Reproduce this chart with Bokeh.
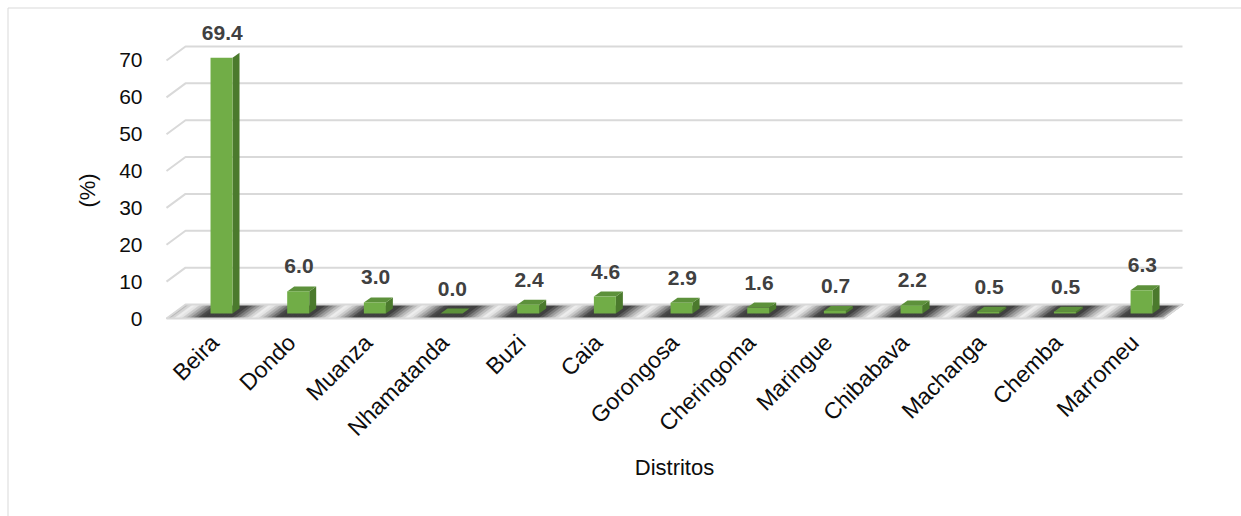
import numpy as np
from math import pi
from bokeh.plotting import figure
from bokeh.models import FixedTicker, Range1d
from bokeh.core.properties import value
from bokeh.embed import file_html
from bokeh.resources import INLINE

# ---------------- data ----------------
districts = ["Beira", "Dondo", "Muanza", "Nhamatanda", "Buzi", "Caia", "Gorongosa",
             "Cheringoma", "Maringue", "Chibabava", "Machanga", "Chemba", "Marromeu"]
percent = [69.4, 6.0, 3.0, 0.0, 2.4, 4.6, 2.9, 1.6, 0.7, 2.2, 0.5, 0.5, 6.3]
y_ticks = [0, 10, 20, 30, 40, 50, 60, 70]
x_title = "Distritos"
y_title = "(%)"

# ---------------- layout (pixels) ----------------
W, H = 1241, 516
FL, FR, FT, FB = 166, 1182, 58, 322
PXX, PXY = 76.67, 3.686
x_start = -0.629
x_end = x_start + (FR - FL) / PXX
y_start = -4 / PXY
y_end = y_start + (FB - FT) / PXY

DXB, DYB = 19 / PXX, 14 / PXY          # back wall offset
BDX, BDY = 6.8 / PXX, 5 / PXY          # bar front plane offset
HW = 11 / PXX                          # bar half width
DDX, DDY = 7 / PXX, 5 / PXY            # bar depth
x0f = x_start
x1f = x_end - DXB

FONT = "Liberation Sans"

p = figure(width=W, height=H, x_range=Range1d(x_start, x_end), y_range=Range1d(y_start, y_end),
           output_backend="svg", toolbar_location=None,
           min_border_left=FL, min_border_right=W - FR, min_border_top=FT, min_border_bottom=H - FB)
p.outline_line_color = None
p.xgrid.visible = False
p.ygrid.visible = False
p.background_fill_color = "white"

# axes
for ax in (p.xaxis, p.yaxis):
    ax.axis_line_color = None
    ax.major_tick_line_color = None
    ax.minor_tick_line_color = None
    ax.major_tick_out = 0
    ax.major_label_text_font = FONT
    ax.major_label_text_color = "#0d0d0d"
    ax.axis_label_text_font = FONT
    ax.axis_label_text_font_size = "22px"
    ax.axis_label_text_font_style = "normal"
    ax.axis_label_text_color = "#0d0d0d"

p.yaxis.ticker = FixedTicker(ticks=y_ticks)
p.yaxis.major_label_text_font_size = "21px"
p.yaxis.major_label_standoff = 24
p.yaxis.axis_label = y_title
p.yaxis.axis_label_standoff = 16

p.xaxis.ticker = FixedTicker(ticks=list(range(len(districts))))
p.xaxis.major_label_overrides = {i: d for i, d in enumerate(districts)}
p.xaxis.major_label_orientation = pi / 4
p.xaxis.major_label_text_font_size = "23px"
p.xaxis.major_label_standoff = 16
p.xaxis.axis_label = x_title
p.xaxis.axis_label_standoff = 2

# chart border (top and left visible)
bx = x_start - (FL - 7.5) / PXX
by = y_end + (FT - 7.5) / PXY
p.multi_line([[bx, x_end + (W - FR) / PXX], [bx, bx]],
             [[by, by], [by, y_start - (H - FB) / PXY]],
             line_color="#d9d9d9", line_width=1, level="overlay")

# gridlines (back wall + left side)
gxs, gys = [], []
for t in y_ticks[1:]:
    gxs.append([x0f, x0f + DXB, x_end])
    gys.append([t, t + DYB, t + DYB])
p.multi_line(gxs, gys, line_color="#d9d9d9", line_width=2, level="annotation")

# floor with shading
N = 260
edges = np.linspace(x0f, x1f, N + 1)
fxs, fys, fcols = [], [], []
dark = np.array([0x40, 0x40, 0x40])
light = np.array([0xf2, 0xf2, 0xf2])
for a, b in zip(edges[:-1], edges[1:]):
    xm = (a + b) / 2 + DXB / 2 - (BDX + DDX / 2)
    d = abs(xm - round(xm))
    t = d / 0.5
    k = np.clip((1.0 - t) / 0.6, 0, 1) ** 1.2
    c = (light + (dark - light) * k).astype(int)
    fxs.append([a, b + 0.01, b + DXB + 0.01, a + DXB])
    fys.append([0, 0, DYB, DYB])
    fcols.append("#%02x%02x%02x" % tuple(c))
p.patches(fxs, fys, fill_color=fcols, line_color=fcols, line_width=0.6, level="annotation")
p.multi_line([[x0f, x1f, x_end], [x0f, x0f + DXB, x_end]], [[0, 0, DYB], [0, DYB, DYB]],
             line_color="#d9d9d9", line_width=2, level="annotation")

# bars
xi = np.arange(len(districts))
vals = np.array(percent)
left = xi + BDX - HW
right = xi + BDX + HW
bot = np.full(len(xi), BDY)
top = BDY + vals

side_xs = [[r, r + DDX, r + DDX, r] for r in right]
side_ys = [[b, b + DDY, tp + DDY, tp] for b, tp in zip(bot, top)]
p.patches(side_xs, side_ys, fill_color="#4b7a2d", line_color=None, level="annotation")
top_xs = [[l, r, r + DDX, l + DDX] for l, r in zip(left, right)]
top_ys = [[tp, tp, tp + DDY, tp + DDY] for tp in top]
p.patches(top_xs, top_ys, fill_color="#5d913b", line_color=None, level="annotation")
p.quad(left=left, right=right, bottom=bot, top=top, fill_color="#71ad47", line_color=None,
       level="annotation")

# data labels
p.text(x=xi + BDX + 0.01, y=top + DDY, text=["%.1f" % v for v in percent],
       text_align="center", text_baseline="alphabetic", y_offset=-20,
       text_font=value(FONT), text_font_style="bold", text_font_size="21px",
       text_color="#404040", level="annotation")

open("out.html", "w").write(file_html(p, INLINE))
